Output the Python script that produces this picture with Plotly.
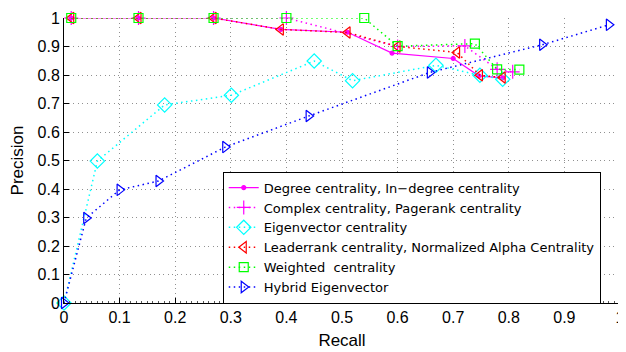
import plotly.graph_objects as go

# Data
deg_x = [0.013, 0.134, 0.269, 0.39, 0.51, 0.59, 0.70, 0.746, 0.789]
deg_y = [1.0, 1.0, 1.0, 0.96, 0.95, 0.877, 0.858, 0.797, 0.790]

cpx_x = [0.013, 0.134, 0.269, 0.40, 0.60, 0.721, 0.779, 0.807]
cpx_y = [1.0, 1.0, 1.0, 1.0, 0.90, 0.902, 0.820, 0.811]

eig_x = [0.0, 0.060, 0.181, 0.301, 0.450, 0.519, 0.669, 0.748, 0.789]
eig_y = [0.0, 0.498, 0.695, 0.729, 0.849, 0.780, 0.834, 0.799, 0.785]

ldr_x = [0.013, 0.134, 0.269, 0.39, 0.51, 0.60, 0.707, 0.748, 0.789]
ldr_y = [1.0, 1.0, 1.0, 0.96, 0.949, 0.90, 0.879, 0.799, 0.791]

wgt_x = [0.013, 0.134, 0.269, 0.40, 0.54, 0.60, 0.739, 0.779, 0.819]
wgt_y = [1.0, 1.0, 1.0, 1.0, 1.0, 0.901, 0.910, 0.820, 0.819]

hyb_x = [0.0, 0.040, 0.100, 0.170, 0.290, 0.440, 0.658, 0.860, 0.980]
hyb_y = [0.0, 0.298, 0.397, 0.428, 0.547, 0.656, 0.809, 0.906, 0.976]

names = [
    "Degree centrality, In\u2212degree centrality",
    "Complex centrality, Pagerank centrality",
    "Eigenvector centrality",
    "Leaderrank centrality, Normalized Alpha Centrality",
    "Weighted  centrality",
    "Hybrid Eigenvector",
]

ticks = [0, 0.1, 0.2, 0.3, 0.4, 0.5, 0.6, 0.7, 0.8, 0.9, 1]
tick_text = ["0", "0.1", "0.2", "0.3", "0.4", "0.5", "0.6", "0.7", "0.8", "0.9", "1"]

fig = go.Figure()

DOT = "1.5px,3.5px"
series = [
    (deg_x, deg_y, "#ff00ff", "solid", "circle", 4, names[0]),
    (cpx_x, cpx_y, "#ff00ff", DOT, "cross-thin-open", 10, names[1]),
    (eig_x, eig_y, "#00ffff", DOT, "diamond-open", 11, names[2]),
    (ldr_x, ldr_y, "#ff0000", DOT, "triangle-left-open", 10, names[3]),
    (wgt_x, wgt_y, "#00ff00", DOT, "square-open", 9, names[4]),
    (hyb_x, hyb_y, "#0000ff", DOT, "triangle-right-open", 10, names[5]),
]

for x, y, c, dash, sym, sz, nm in series:
    fig.add_trace(go.Scatter(
        x=x, y=y, name=nm, mode="lines+markers",
        line=dict(color=c, width=1.5 if dash != "solid" else 1.2, dash=dash),
        marker=dict(symbol=sym, size=sz, color=c, line=dict(color=c, width=1.2)),
        cliponaxis=False,
    ))

# The page body adds an 8px offset; the figure is sized to fill the rest.
fig.update_layout(
    width=618, height=344,
    margin=dict(l=56, r=6, t=10, b=49),
    paper_bgcolor="white", plot_bgcolor="white",
    font=dict(family="Liberation Sans, Arial, sans-serif", size=16, color="black"),
    showlegend=True,
    legend=dict(
        x=0.2855, y=0.461, xanchor="left", yanchor="top",
        bgcolor="white", bordercolor="black", borderwidth=1,
        font=dict(family="DejaVu Sans, sans-serif", size=13, color="black"),
        tracegroupgap=0,
    ),
)

axis_common = dict(
    showline=True, linecolor="black", linewidth=1,
    ticks="inside", ticklen=5, tickcolor="black",
    tickfont=dict(size=16),
    showgrid=True, gridcolor="#909090", griddash="1px,3.5px", gridwidth=1,
    zeroline=False, mirror=False, automargin=False,
)

fig.update_xaxes(
    range=[0, 1], tickvals=ticks, ticktext=tick_text,
    title=dict(text="Recall", font=dict(size=17), standoff=8),
    minor=dict(ticks="inside", ticklen=2, dtick=0.01, tickcolor="#555", showgrid=False),
    **axis_common,
)
fig.update_yaxes(
    range=[0, 1], tickvals=ticks, ticktext=tick_text,
    title=dict(text="Precision", font=dict(size=17), standoff=12),
    **axis_common,
)
fig.layout.xaxis.ticklabeloverflow = "allow"
fig.layout.yaxis.ticklabeloverflow = "allow"

fig.write_html("out.html", config={"responsive": False})
